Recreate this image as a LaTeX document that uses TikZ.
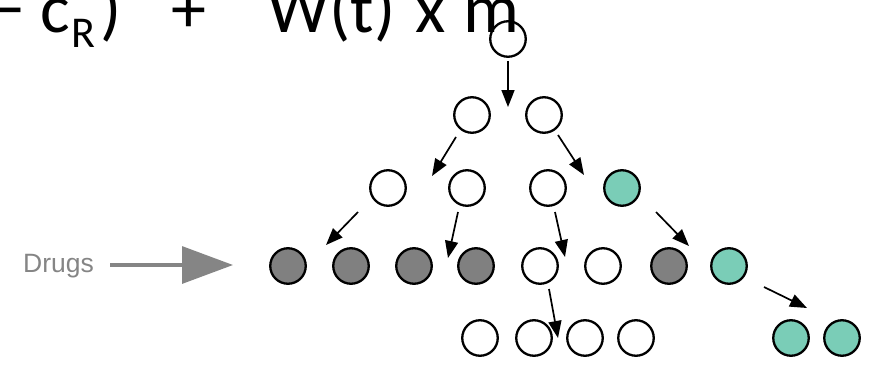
\documentclass[tikz,border=0pt]{standalone}
\usepackage{fontspec}
\newfontfamily\formulafont{Carlito}
\newfontfamily\labelfont{Liberation Sans}
\usetikzlibrary{arrows.meta}
\definecolor{cellgray}{HTML}{808080}
\definecolor{cellteal}{HTML}{7ACDB7}
\definecolor{druggray}{HTML}{858585}
\tikzset{
  cell/.style={circle, draw=black, line width=2.3pt, minimum size=35.5pt, inner sep=0pt, fill=white},
  killed/.style={cell, fill=cellgray},
  resist/.style={cell, fill=cellteal},
  arr/.style={line width=1.7pt, -{Triangle[length=17pt,width=13pt]}},
  bigarr/.style={druggray, line width=3.2pt, -{Triangle[length=51pt,width=37pt]}},
  ftxt/.style={inner sep=0pt, anchor=base west, font=\formulafont\fontsize{70}{84}\selectfont},
}
\begin{document}
\begin{tikzpicture}[x=1pt, y=-1pt]
\useasboundingbox (0,0) rectangle (871,375);
\begin{scope}
\clip (0,0) rectangle (871,375);

% tree of cells
\node[cell, fill=none] (r1) at (508,39) {};
\node[cell] (a1) at (472,115) {};
\node[cell] (a2) at (544,115) {};
\node[cell] (b1) at (388,188) {};
\node[cell] (b2) at (467,188) {};
\node[cell] (b3) at (548,188) {};
\node[resist] (b4) at (622,188) {};
\node[killed] (c1) at (288,266) {};
\node[killed] (c2) at (351,266) {};
\node[killed] (c3) at (414,266) {};
\node[killed] (c4) at (476,266) {};
\node[cell] (c5) at (540,266) {};
\node[cell] (c6) at (603,266) {};
\node[killed] (c7) at (669,266) {};
\node[resist] (c8) at (729,266) {};
\node[cell] (d1) at (480,338) {};
\node[cell] (d2) at (534,338) {};
\node[cell] (d3) at (585,338) {};
\node[cell] (d4) at (636,338) {};
\node[resist] (d5) at (791,338) {};
\node[resist] (d6) at (842,338) {};

% division arrows
\coordinate (t1) at (508,107);
\coordinate (t2) at (432,176);
\coordinate (t3) at (584,175);
\coordinate (t4) at (326,245);
\coordinate (t5) at (448,258);
\coordinate (t6) at (565,257);
\coordinate (t7) at (689,246);
\coordinate (t8) at (558,338);
\coordinate (t9) at (807,308);
\draw[arr] ([yshift=-3pt]r1.south) -- (t1);
\draw[arr] (456,137) -- (t2);
\draw[arr] (558,135) -- (t3);
\draw[arr] (358,212) -- (t4);
\draw[arr] (458,212) -- (t5);
\draw[arr] (555,212) -- (t6);
\draw[arr] (656,212) -- (t7);
\draw[arr] (549,289) -- (t8);
\draw[arr] (764,287) -- (t9);

% drug input
\node[inner sep=0pt, anchor=base west, text=druggray, font=\labelfont\fontsize{26.5}{30}\selectfont] (drugs) at (23,272) {Drugs};
\coordinate (dtip) at (233,265);
\draw[bigarr] (110,265) -- (dtip);

% formula
\node[ftxt] (f1) at (-10,32) {\char"2212};
\node[ftxt] (f2) at (40,32) {c};
\node[inner sep=0pt, anchor=base west, font=\formulafont\fontsize{44}{50}\selectfont] (f3) at (71,47) {R};
\node[ftxt] (f4) at (100,32) {)};
\node[ftxt] (f5) at (171,32) {+};
\node[ftxt] (f6) at (267,32) {W(t)};
\node[ftxt] (f7) at (415,32) {x};
\node[ftxt] (f8) at (463,32) {m};
\end{scope}
\end{tikzpicture}
\end{document}
